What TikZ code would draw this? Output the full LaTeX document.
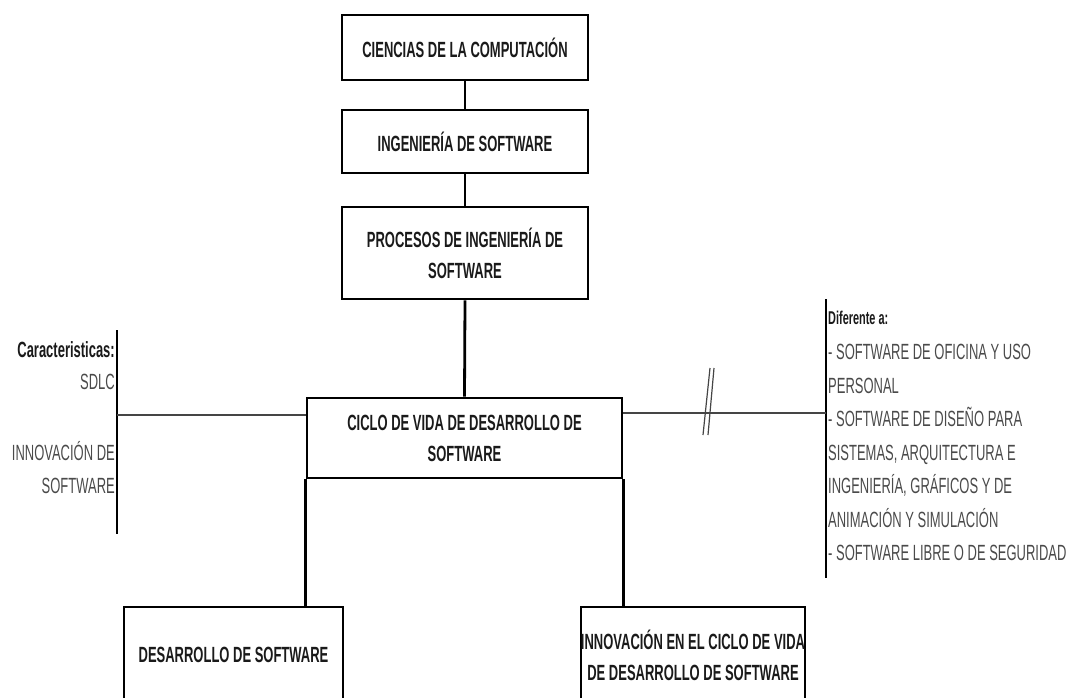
\documentclass[tikz,border=0pt]{standalone}
\usepackage{fontspec}
\usepackage{xcolor}
\usepackage{tikz}
\newfontfamily\narrowfont{Liberation Sans}[FakeStretch=0.59]
\definecolor{boxtext}{HTML}{1A1A1A}
\definecolor{sidetext}{HTML}{4A4A4A}
\definecolor{sideline}{HTML}{454545}

\begin{document}
\begin{tikzpicture}[x=1pt,y=-1pt,
  caja/.style={draw=black,line width=2.8pt,align=center,inner sep=0pt,text=boxtext,
    font=\narrowfont\bfseries\fontsize{22}{31}\selectfont},
  lista/.style={inner sep=0pt,text=sidetext,font=\narrowfont\fontsize{22}{33.5}\selectfont},
  titulo/.style={inner sep=0pt,text=boxtext,font=\narrowfont\bfseries\fontsize{22}{31}\selectfont},
  linea/.style={line width=2.8pt},
  barra/.style={line width=2.8pt,black},
  enlace/.style={line width=1.8pt,sideline}]
%\draw[step=50,red,thin] (0,0) grid (1074,698);
\useasboundingbox (0,0) rectangle (1074,698);
\clip (0,0) rectangle (1074,698);

\node[caja,minimum width=246pt,minimum height=65pt] (cc) at (465,47.5) {CIENCIAS DE LA COMPUTACIÓN};
\node[caja,minimum width=246pt,minimum height=63pt] (is) at (465,141.5) {INGENIERÍA DE SOFTWARE};
\node[caja,minimum width=246pt,minimum height=92pt] (pis) at (465,253) {PROCESOS DE INGENIERÍA DE\\SOFTWARE};
\node[caja,minimum width=315pt,minimum height=80pt] (ciclo) at (464.5,438) {CICLO DE VIDA DE DESARROLLO DE\\SOFTWARE};
\node[caja,minimum width=219pt,minimum height=96pt] (ds) at (233.5,655) {DESARROLLO DE SOFTWARE};
\node[caja,minimum width=212pt,minimum height=96pt] (icv) at (693,655) {INNOVACIÓN EN EL CICLO DE VIDA\\DE DESARROLLO DE SOFTWARE};

\draw[linea] (cc.south) -- (is.north);
\draw[linea] (is.south) -- (pis.north);
\draw[linea] (pis.south) -- (ciclo.north);
\draw[linea] (ciclo.south west) -- (ciclo.south west |- ds.north);
\draw[linea] (ciclo.south east) -- (ciclo.south east |- icv.north);

% caracteristicas
\coordinate (carTop) at (117,330);
\coordinate (carBot) at (117,534);
\coordinate (carJ) at (117,415);
\draw[barra] (carTop) -- (carBot);
\draw[enlace] (carJ) -- (carJ -| ciclo.west);
\node[titulo,anchor=east] (car) at (115,350) {Caracteristicas:};
\node[lista,anchor=east] (sdlc) at (115,382) {SDLC};
\node[lista,anchor=east,align=right] (inno) at (115,467.5) {INNOVACIÓN DE\\SOFTWARE};

% diferente a
\coordinate (difTop) at (826,299);
\coordinate (difBot) at (826,578);
\coordinate (difJ) at (826,413);
\draw[barra] (difTop) -- (difBot);
\draw[enlace] (difJ) -- (difJ -| ciclo.east);
\draw[sideline,line width=1.2pt] (710,368) -- (703,435);
\draw[sideline,line width=1.2pt] (714,368) -- (708,435);
\node[titulo,anchor=west,font=\narrowfont\bfseries\fontsize{18.5}{22}\selectfont] (dif) at (828,318) {Diferente a:};
\node[lista,anchor=west,align=left] (difl) at (828,452.5) {- SOFTWARE DE OFICINA Y USO\\PERSONAL\\- SOFTWARE DE DISEÑO PARA\\SISTEMAS, ARQUITECTURA E\\INGENIERÍA, GRÁFICOS Y DE\\ANIMACIÓN Y SIMULACIÓN\\- SOFTWARE LIBRE O DE SEGURIDAD};

\end{tikzpicture}
\end{document}
